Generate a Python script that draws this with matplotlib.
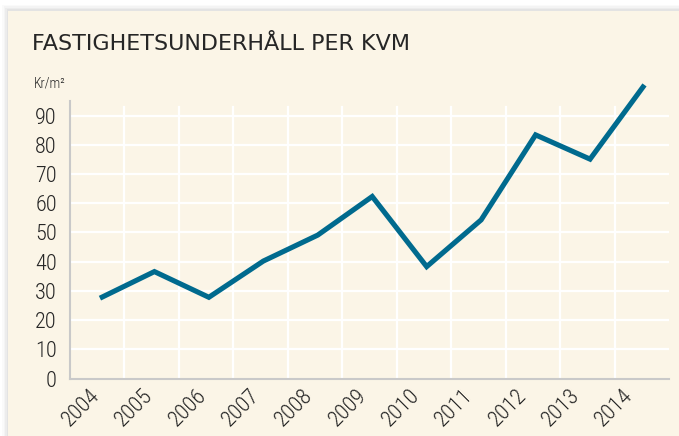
import numpy as np
import matplotlib.pyplot as plt
from matplotlib.patches import Rectangle

# data
years = ['2004', '2005', '2006', '2007', '2008', '2009', '2010', '2011', '2012', '2013', '2014']
values = [27.5, 36.6, 27.8, 40.2, 49.1, 62.3, 38.3, 54.3, 83.4, 75.1, 100.5]
y_ticks = [0, 10, 20, 30, 40, 50, 60, 70, 80, 90]

title = 'FASTIGHETSUNDERHÅLL PER KVM'
unit = 'Kr/m²'

cream = '#FBF5E7'
line_col = '#006A8E'
text_col = '#262626'

plt.rcParams['font.family'] = ['Roboto Condensed', 'Roboto', 'DejaVu Sans']
plt.rcParams['font.weight'] = 'light'

fig = plt.figure(figsize=(6.79, 4.36), dpi=100, facecolor='white')

# soft shadow + cream panel
for i, a in enumerate([0.02, 0.025, 0.03, 0.035]):
    d = (4 - i) * 1.5
    fig.patches.append(Rectangle(((8 - d) / 679, 0), 1, (436 - 11 + d) / 436,
                                 transform=fig.transFigure, facecolor='black',
                                 alpha=a, edgecolor='none', zorder=-2))
fig.patches.append(Rectangle((8 / 679, 0), 1, (436 - 11) / 436, transform=fig.transFigure,
                             facecolor=cream, edgecolor='none', zorder=-1))

ax = fig.add_axes([70 / 679, 1 - 378.5 / 436, (669 - 70) / 679, (378.5 - 101) / 436])
ax.set_zorder(2)
ax.set_facecolor(cream)

x = np.arange(len(years))
ax.set_xlim(-0.55, len(years) - 0.55)
ax.set_ylim(0, 95)

# grid: horizontal at the ticks, vertical between the years
for yv in y_ticks[1:]:
    ax.axhline(yv, color='white', lw=1.6, zorder=1)
for xb in x[:-1] + 0.45:
    ax.plot([xb, xb], [0, 93], color='white', lw=1.6, zorder=1)

ax.plot(x, values, color=line_col, lw=3.7, solid_joinstyle='miter',
        solid_capstyle='butt', clip_on=False, zorder=3)

ax.set_yticks(y_ticks)
ax.set_yticklabels([str(v) for v in y_ticks])
ax.set_xticks(x * 0.98 - 0.2)
ax.set_xticklabels(years, rotation=45, ha='right', rotation_mode='anchor')
ax.tick_params(axis='y', length=0, pad=9.5, labelsize=16, labelcolor=text_col)
ax.tick_params(axis='x', length=0, pad=5, labelsize=16, labelcolor=text_col)

for s in ['top', 'right']:
    ax.spines[s].set_visible(False)
for s in ['left', 'bottom']:
    ax.spines[s].set_color('#C9C9C9')
    ax.spines[s].set_linewidth(1.5)

fig.text(32 / 679, 1 - 50 / 436, title, fontsize=16, color=text_col,
         family='DejaVu Sans', fontweight='normal', va='baseline', ha='left')
fig.text(34 / 679, 1 - 87 / 436, unit, fontsize=10, color=text_col,
         va='baseline', ha='left')

fig.savefig('out.png', dpi=100, facecolor='white')
